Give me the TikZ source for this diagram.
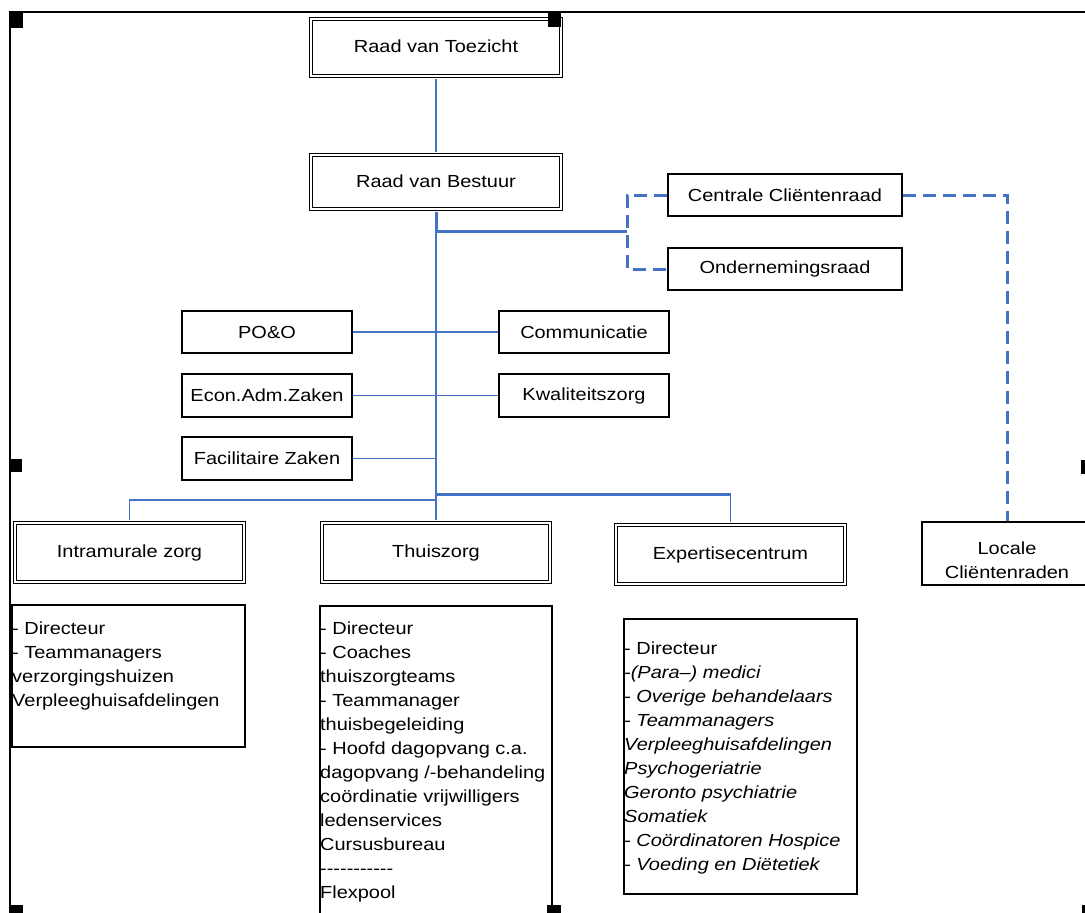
\documentclass[tikz,border=0pt]{standalone}
\usepackage{fontspec}
\setmainfont{Liberation Sans}[FakeStretch=1.14]
\definecolor{orgblue}{RGB}{68,114,196}

\begin{document}
\begin{tikzpicture}[x=1pt,y=-1pt,
  every node/.style={font=\fontsize{17.5}{24}\selectfont, inner sep=0pt},
  dbox/.style={draw, double, double distance=2pt, line width=1.35pt, align=center},
  sbox/.style={draw, line width=1.3pt, align=center},
  listbox/.style={draw, line width=1.3pt},
  listtext/.style={anchor=north west, align=left},
  link/.style={draw=orgblue, line width=1.3pt},
  boldlink/.style={draw=orgblue, line width=3pt},
  dashlink/.style={draw=orgblue, line width=3pt, dash pattern=on 13pt off 7pt},
  handle/.style={fill=black},
]
\useasboundingbox (0,0) rectangle (1085,913);
\clip (0,0) rectangle (1085,913);

% board level
\node[dbox, minimum width=250, minimum height=57] (rvt) at (436,47.5) {\raisebox{2pt}{Raad van Toezicht}};
\node[dbox, minimum width=250, minimum height=54] (rvb) at (436,182) {\raisebox{1.5pt}{Raad van Bestuur}};

% advisory councils
\node[sbox, minimum width=234, minimum height=42] (cc) at (785,195) {Centrale Cliëntenraad};
\node[sbox, minimum width=234, minimum height=42] (or) at (785,269) {Ondernemingsraad};

% staff departments
\node[sbox, minimum width=170, minimum height=42] (po) at (267,332) {PO\&O};
\node[sbox, minimum width=170, minimum height=43] (econ) at (267,395.5) {Econ.Adm.Zaken};
\node[sbox, minimum width=170, minimum height=43] (fac) at (267,458.5) {Facilitaire Zaken};
\node[sbox, minimum width=170, minimum height=42] (comm) at (584,332) {Communicatie};
\node[sbox, minimum width=170, minimum height=43] (kwal) at (584,395.5) {Kwaliteitszorg};

% divisions
\node[dbox, minimum width=229, minimum height=59] (intra) at (129.5,552.5) {\raisebox{2pt}{Intramurale zorg}};
\node[dbox, minimum width=228, minimum height=59] (thz) at (436,552.5) {\raisebox{2pt}{Thuiszorg}};
\node[dbox, minimum width=229, minimum height=59] (exp) at (730.5,554.5) {\raisebox{2pt}{Expertisecentrum}};
\node[sbox, minimum width=170, minimum height=63,
      label={[yshift=-6.5pt, align=center]center:Locale\\Cliëntenraden}] (loc) at (1007,553.5) {};

% division contents
\node[listbox, minimum width=233, minimum height=142] (intrab) at (128.5,676) {};
\node[listtext] (intrat) at (12,621.5) {- Directeur\\- Teammanagers\\verzorgingshuizen\\Verpleeghuisafdelingen};

\node[listbox, minimum width=232, minimum height=329] (thzb) at (436,770.5) {};
\node[listtext] (thzt) at (320,621.5) {- Directeur\\- Coaches\\thuiszorgteams\\- Teammanager\\thuisbegeleiding\\- Hoofd dagopvang c.a.\\dagopvang /-behandeling\\coördinatie vrijwilligers\\ledenservices\\Cursusbureau\\-{}-{}-{}-{}-{}-{}-{}-{}-{}-{}-\\Flexpool};

\node[listbox, minimum width=233, minimum height=275] (expb) at (740.5,756.5) {};
\node[listtext] (expt) at (624,641.5) {- Directeur\\\itshape -(Para–) medici\\\itshape - Overige behandelaars\\\itshape - Teammanagers\\\itshape Verpleeghuisafdelingen\\\itshape Psychogeriatrie\\\itshape Geronto psychiatrie\\\itshape Somatiek\\\itshape - Coördinatoren Hospice\\\itshape - Voeding en Diëtetiek};

% junction points
\coordinate (j1) at (436,231);
\coordinate (j2) at (627,231);
\coordinate (ja) at (436,494.5);
\coordinate (jb) at (436,500);

% connectors
\draw[link, shorten <=2.4pt, shorten >=2.4pt] (rvt.south) -- (rvb.north);
\draw[boldlink, shorten <=2.4pt] (rvb.south) -- (j1) -- (j2);
\draw[link, shorten >=2.4pt] (j1) -- (thz.north);
\draw[dashlink] (cc.west) -| (j2) |- (or.west);
\draw[dashlink] (cc.east) -| (loc.north);
\draw[link] (po.east) -- (comm.west);
\draw[link] (econ.east) -- (kwal.west);
\draw[link] (fac.east) -- (fac.east -| j1);
\draw[link, shorten <=2.4pt] (intra.north) |- (jb);
\draw[link, line width=2.6pt] (ja) -- (ja -| exp.north);
\draw[link, shorten >=2.4pt] (ja -| exp.north) -- (exp.north);

% frame and handles
\draw[line width=2.3pt] (9,12.2) -- (1090,12.2);
\draw[line width=2.2pt] (10,12.2) -- (10,920);
\fill[handle] (9,13) rectangle (23,28);
\fill[handle] (548,13) rectangle (561,27);
\fill[handle] (9,459) rectangle (22,472);
\fill[handle] (1081,460) rectangle (1086,474);
\fill[handle] (9,905) rectangle (23,914);
\fill[handle] (547,905) rectangle (561,914);
\fill[handle] (1082,905) rectangle (1086,914);
\end{tikzpicture}
\end{document}
